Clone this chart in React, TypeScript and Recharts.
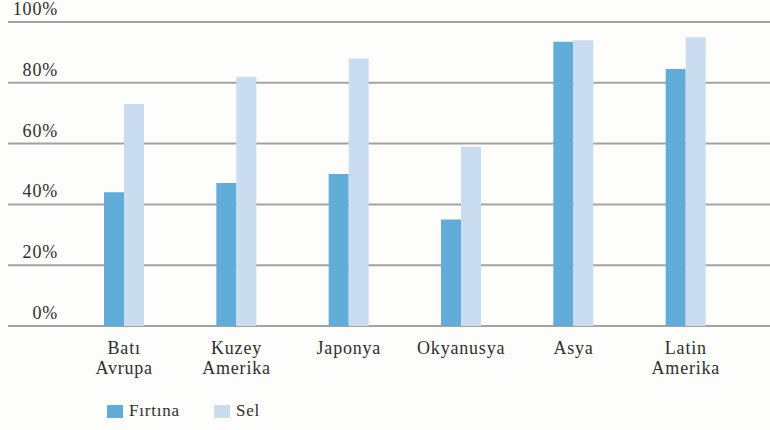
import { BarChart, Bar, XAxis, YAxis, CartesianGrid } from "recharts";

const regions = ["Batı\nAvrupa", "Kuzey\nAmerika", "Japonya", "Okyanusya", "Asya", "Latin\nAmerika"];
const firtina = [44, 47, 50, 35, 93.5, 84.5];
const sel = [73, 82, 88, 59, 94, 95];
const yTicks = [0, 20, 40, 60, 80, 100];

const data = regions.map((r, i) => ({ region: r, firtina: firtina[i], sel: sel[i] }));

const FONT = '"Liberation Serif", "Times New Roman", serif';
const TEXT = "#2f2f2f";
const C_FIRTINA = "#62acd9";
const C_SEL = "#cadcef";

function YTick({ y, payload }: { y: number; payload: { value: number } }) {
  return (
    <text x={58} y={y - 7} textAnchor="end" style={{ fontFamily: FONT }} fontSize={18} fill={TEXT} letterSpacing={0.8}>
      {`${payload.value}%`}
    </text>
  );
}

function XTick({ x, y, payload }: { x: number; y: number; payload: { value: string } }) {
  const lines = String(payload.value).split("\n");
  return (
    <text x={x} y={y} textAnchor="middle" style={{ fontFamily: FONT }} fontSize={18} fill={TEXT} letterSpacing={0.8}>
      {lines.map((l, i) => (
        <tspan key={i} x={x} dy={20}>
          {l}
        </tspan>
      ))}
    </text>
  );
}

const legendItems = [
  { label: "Fırtına", color: C_FIRTINA },
  { label: "Sel", color: C_SEL },
];

export default function App() {
  return (
    <div style={{ position: "absolute", left: 0, top: 0, width: 770, height: 430, background: "#fdfdfb" }}>
      <BarChart
        width={770}
        height={430}
        data={data}
        margin={{ top: 22, right: 0, bottom: 44, left: 7 }}
        barSize={20}
        barGap={0}
      >
        <CartesianGrid vertical={false} stroke="#a3a3a3" strokeWidth={2} />
        <XAxis
          dataKey="region"
          axisLine={false}
          tickLine={false}
          interval={0}
          height={60}
          padding={{ left: 60, right: 28 }}
          tick={XTick as any}
        />
        <YAxis
          width={1}
          domain={[0, 100]}
          ticks={yTicks}
          axisLine={false}
          tickLine={false}
          tick={YTick as any}
        />
        <Bar dataKey="firtina" name="Fırtına" fill={C_FIRTINA} isAnimationActive={false} />
        <Bar dataKey="sel" name="Sel" fill={C_SEL} isAnimationActive={false} />
      </BarChart>
      <div
        style={{
          position: "absolute",
          left: 107,
          top: 401,
          display: "flex",
          fontFamily: FONT,
          fontSize: 17,
          color: TEXT,
          letterSpacing: 0.8,
        }}
      >
        {legendItems.map((it, i) => (
          <div key={i} style={{ display: "flex", alignItems: "center", marginRight: i === 0 ? 34 : 0 }}>
            <span style={{ width: 16, height: 13, background: it.color, display: "inline-block", marginRight: 6 }} />
            <span>{it.label}</span>
          </div>
        ))}
      </div>
    </div>
  );
}
